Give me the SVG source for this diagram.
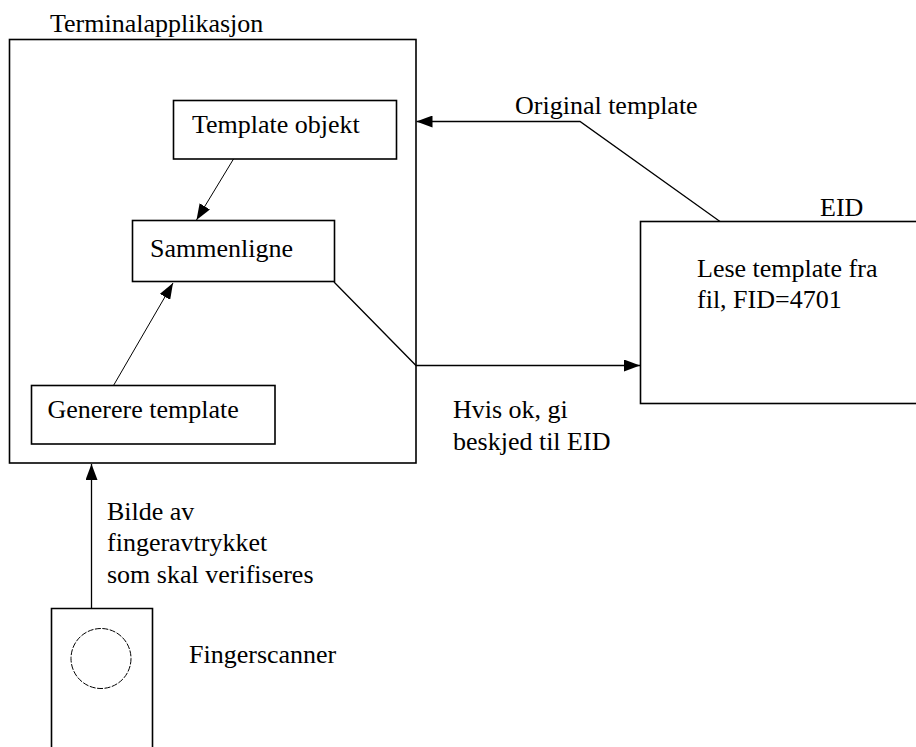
<svg xmlns="http://www.w3.org/2000/svg" width="916" height="747" viewBox="0 0 916 747">
  <style>
    text { font-family: "Liberation Serif", "Times New Roman", serif; font-size: 26px; fill: #000; }
    .box { fill: none; stroke: #000; stroke-width: 1.6; }
    .conn { fill: none; stroke: #000; stroke-width: 1.3; }
    .thin { fill: none; stroke: #000; stroke-width: 1; }
  </style>
  <defs>
    <marker id="arrow" viewBox="0 0 16 12" refX="16" refY="6" markerWidth="16" markerHeight="12" markerUnits="userSpaceOnUse" orient="auto">
      <path d="M0,0 L16,6 L0,12 Z" fill="#000"/>
    </marker>
  </defs>
  <rect width="916" height="747" fill="#fff"/>

  <!-- Terminal application container -->
  <g id="terminalapplikasjon">
    <rect class="box" x="9.5" y="39.5" width="406.5" height="423.5"/>
    <text x="50" y="32">Terminalapplikasjon</text>
  </g>

  <g id="template-objekt">
    <rect class="box" x="173.5" y="100.5" width="223" height="58.5"/>
    <text x="192" y="133">Template objekt</text>
  </g>

  <g id="sammenligne">
    <rect class="box" x="132.5" y="220.5" width="202" height="61"/>
    <text x="150" y="257">Sammenligne</text>
  </g>

  <g id="generere-template">
    <rect class="box" x="31.5" y="385.5" width="243.5" height="58.5"/>
    <text x="47.5" y="418">Generere template</text>
  </g>

  <!-- EID card -->
  <g id="eid">
    <rect class="box" x="640.5" y="221.5" width="290" height="182"/>
    <text x="820" y="216">EID</text>
    <text x="697" y="277">Lese template fra</text>
    <text x="697" y="308">fil, FID=4701</text>
  </g>

  <!-- Finger scanner device -->
  <g id="fingerscanner">
    <path class="box" d="M51.5,760 V608.5 H152.5 V760"/>
    <circle class="thin" cx="101" cy="658.5" r="30" stroke-dasharray="6 1.5"/>
    <text x="189" y="662.5">Fingerscanner</text>
  </g>

  <!-- Connectors -->
  <g id="connectors">
    <line class="thin" x1="233.5" y1="159" x2="196.5" y2="220" marker-end="url(#arrow)"/>
    <line class="thin" x1="113.5" y1="385.5" x2="173" y2="283" marker-end="url(#arrow)"/>
    <path class="conn" d="M720,221.5 L580,121.5 H416.5" marker-end="url(#arrow)"/>
    <path class="conn" d="M334,282 L416,365.5 H640" marker-end="url(#arrow)"/>
    <line class="conn" x1="91.5" y1="608.5" x2="91.5" y2="464" marker-end="url(#arrow)"/>
  </g>

  <!-- Connector labels -->
  <g id="labels">
    <text x="515" y="114">Original template</text>
    <text x="453" y="418">Hvis ok, gi</text>
    <text x="453" y="450">beskjed til EID</text>
    <text x="107" y="520">Bilde av</text>
    <text x="107" y="551">fingeravtrykket</text>
    <text x="107" y="582.5">som skal verifiseres</text>
  </g>
</svg>
